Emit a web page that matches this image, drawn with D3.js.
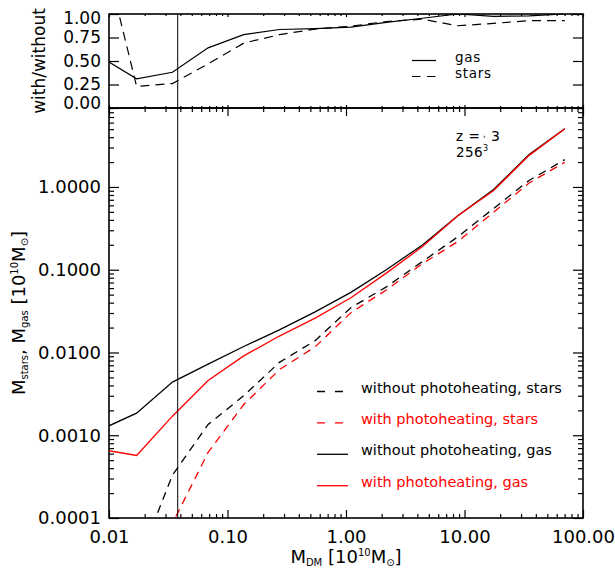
<!DOCTYPE html>
<html><head><meta charset="utf-8">
<script src="https://cdn.jsdelivr.net/npm/d3@7"></script>
<style>body{margin:0;background:#fff}svg{display:block}text{font-family:"DejaVu Sans",sans-serif}</style>
</head><body><svg id="c" width="615" height="575"></svg>
<script>
// ---- data ----
const massDM      = [0.01, 0.0171, 0.0343, 0.0686, 0.137, 0.274, 0.549, 1.10, 2.19, 4.39, 8.78, 17.6, 35.1, 70.2];
const gasWithout  = [0.0013, 0.00185, 0.00439, 0.00724, 0.0118, 0.0188, 0.031, 0.0532, 0.100, 0.198, 0.45, 0.93, 2.46, 5.06];
const gasWith     = [0.00065, 0.00057, 0.0017, 0.00458, 0.0091, 0.0158, 0.026, 0.0458, 0.091, 0.189, 0.45, 0.907, 2.41, 5.06];
const starsWithout= [3e-6, 2.6e-5, 3.3e-4, 1.35e-3, 0.0030, 0.0076, 0.0139, 0.0348, 0.062, 0.125, 0.25, 0.55, 1.2, 2.14];
const starsWith   = [4.3e-6, 6e-6, 8.6e-5, 6.2e-4, 0.00235, 0.0062, 0.0117, 0.0303, 0.057, 0.1175, 0.219, 0.495, 1.116, 1.99];
const ratioGas    = [0.49, 0.31, 0.38, 0.64, 0.78, 0.835, 0.845, 0.86, 0.91, 0.955, 1.0, 0.975, 0.98, 1.0];
const ratioStars  = [1.43, 0.23, 0.26, 0.47, 0.69, 0.78, 0.84, 0.87, 0.92, 0.945, 0.875, 0.90, 0.93, 0.93];
const cutMass = 0.038;
const xTicks = [0.01, 0.1, 1, 10, 100];
const yTicksBottom = [0.0001, 0.001, 0.01, 0.1, 1];
const yTicksTop = [0, 0.25, 0.5, 0.75, 1];
const legendBottom = [
  {label:"without photoheating, stars", color:"#000", dash:"8,10"},
  {label:"with photoheating, stars", color:"#f00", dash:"8,10"},
  {label:"without photoheating, gas", color:"#000", dash:null},
  {label:"with photoheating, gas", color:"#f00", dash:null}
];
const legendTop = [{label:"gas", dash:null},{label:"stars", dash:"8.5,6.5"}];

// ---- layout ----
const L=109, R=583, T1=14, B1=108, B2=518;
const svg = d3.select("#c");
const x = d3.scaleLog().domain([0.01,100]).range([L,R]);
const yB = d3.scaleLog().domain([1e-4,9]).range([B2,B1]);
const yT = d3.scaleLinear().domain([0,1]).range([B1,T1]);

const minorLog = (lo,hi)=>{const a=[];for(let e=lo;e<hi;e++)for(let k=2;k<=9;k++)a.push(k*Math.pow(10,e));return a;};
const xMinor = minorLog(-2,2);
const yMinor = minorLog(-4,1).filter(v=>v<=9);

svg.append("defs").html(
 `<clipPath id="cb"><rect x="${L}" y="${B1}" width="${R-L}" height="${B2-B1}"/></clipPath>
  <clipPath id="ct"><rect x="${L}" y="${T1}" width="${R-L}" height="${B1-T1}"/></clipPath>`);

function styleAxis(g){g.select(".domain").remove();g.selectAll("line").attr("stroke","#000").attr("stroke-width",1.2);
  g.selectAll("text").attr("fill","#000").style("font-family","DejaVu Sans").style("font-size","18px");}

// bottom panel axes
svg.append("g").attr("transform",`translate(0,${B2})`).call(d3.axisBottom(x).tickValues(xTicks).tickFormat(d3.format(".2f")).tickSizeInner(-8).tickSizeOuter(0).tickPadding(12)).call(styleAxis);
svg.append("g").attr("transform",`translate(0,${B2})`).call(d3.axisBottom(x).tickValues(xMinor).tickFormat("").tickSizeInner(-4).tickSizeOuter(0)).call(styleAxis);
svg.append("g").attr("transform",`translate(0,${B1})`).call(d3.axisTop(x).tickValues(xTicks).tickFormat("").tickSizeInner(-8).tickSizeOuter(0)).call(styleAxis);
svg.append("g").attr("transform",`translate(0,${B1})`).call(d3.axisTop(x).tickValues(xMinor).tickFormat("").tickSizeInner(-4).tickSizeOuter(0)).call(styleAxis);
svg.append("g").attr("transform",`translate(${L},0)`).call(d3.axisLeft(yB).tickValues(yTicksBottom).tickFormat(d3.format(".4f")).tickSizeInner(-10).tickSizeOuter(0).tickPadding(8)).call(styleAxis);
svg.append("g").attr("transform",`translate(${L},0)`).call(d3.axisLeft(yB).tickValues(yMinor).tickFormat("").tickSizeInner(-5).tickSizeOuter(0)).call(styleAxis);
svg.append("g").attr("transform",`translate(${R},0)`).call(d3.axisRight(yB).tickValues(yTicksBottom).tickFormat("").tickSizeInner(-10).tickSizeOuter(0)).call(styleAxis);
svg.append("g").attr("transform",`translate(${R},0)`).call(d3.axisRight(yB).tickValues(yMinor).tickFormat("").tickSizeInner(-5).tickSizeOuter(0)).call(styleAxis);

// top panel axes
svg.append("g").attr("transform",`translate(0,${B1})`).call(d3.axisBottom(x).tickValues(xTicks).tickFormat("").tickSizeInner(-3).tickSizeOuter(0)).call(styleAxis);
svg.append("g").attr("transform",`translate(0,${B1})`).call(d3.axisBottom(x).tickValues(xMinor).tickFormat("").tickSizeInner(-2).tickSizeOuter(0)).call(styleAxis);
svg.append("g").attr("transform",`translate(0,${T1})`).call(d3.axisTop(x).tickValues(xTicks).tickFormat("").tickSizeInner(-3).tickSizeOuter(0)).call(styleAxis);
svg.append("g").attr("transform",`translate(0,${T1})`).call(d3.axisTop(x).tickValues(xMinor).tickFormat("").tickSizeInner(-2).tickSizeOuter(0)).call(styleAxis);
const gTopY = svg.append("g").attr("transform",`translate(${L},0)`).call(d3.axisLeft(yT).tickValues(yTicksTop).tickFormat(d3.format(".2f")).tickSizeInner(-10).tickSizeOuter(0).tickPadding(8)).call(styleAxis);
gTopY.selectAll("text").style("font-size","17px");
gTopY.selectAll(".tick").filter(d=>d===1).select("text").attr("dy","0.55em");
gTopY.selectAll(".tick").filter(d=>d===0).select("text").attr("dy","0em");
svg.append("g").attr("transform",`translate(${R},0)`).call(d3.axisRight(yT).tickValues(yTicksTop).tickFormat("").tickSizeInner(-10).tickSizeOuter(0)).call(styleAxis);

// frames
svg.append("rect").attr("x",L).attr("y",T1).attr("width",R-L).attr("height",B1-T1).attr("fill","none").attr("stroke","#000").attr("stroke-width",1.6);
svg.append("rect").attr("x",L).attr("y",B1).attr("width",R-L).attr("height",B2-B1).attr("fill","none").attr("stroke","#000").attr("stroke-width",1.6);

// data lines
const lineB = d3.line().x(d=>x(d[0])).y(d=>yB(d[1]));
const lineT = d3.line().x(d=>x(d[0])).y(d=>yT(d[1]));
const zip = arr => massDM.map((m,i)=>[m,arr[i]]);
const gB = svg.append("g").attr("clip-path","url(#cb)");
[[starsWithout,"#000","8,6"],[starsWith,"#f00","8,6"],[gasWithout,"#000",null],[gasWith,"#f00",null]].forEach(([arr,c,d])=>{
  gB.append("path").attr("d",lineB(zip(arr))).attr("fill","none").attr("stroke",c).attr("stroke-width",1.3).attr("stroke-dasharray",d);
});
const gT = svg.append("g").attr("clip-path","url(#ct)");
gT.append("path").attr("d",lineT(zip(ratioGas))).attr("fill","none").attr("stroke","#000").attr("stroke-width",1.2);
gT.append("path").attr("d",lineT(zip(ratioStars))).attr("fill","none").attr("stroke","#000").attr("stroke-width",1.2).attr("stroke-dasharray","9,6");

// vertical cut line
svg.append("line").attr("x1",x(cutMass)).attr("x2",x(cutMass)).attr("y1",T1).attr("y2",B2).attr("stroke","#000").attr("stroke-width",1);

// bottom legend
legendBottom.forEach((e,i)=>{
  const yy = 391.5 + i*31.4;
  svg.append("line").attr("x1",317).attr("x2",348).attr("y1",yy).attr("y2",yy).attr("stroke",e.color).attr("stroke-width",1.3).attr("stroke-dasharray",e.dash);
  svg.append("text").attr("x",361).attr("y",yy+1).attr("fill",e.color).style("font-size","14.5px").text(e.label);
});
// top legend
legendTop.forEach((e,i)=>{
  const yy = 60.5 + i*16;
  svg.append("line").attr("x1",412).attr("x2",436).attr("y1",yy).attr("y2",yy).attr("stroke","#000").attr("stroke-width",1.2).attr("stroke-dasharray",e.dash);
  svg.append("text").attr("x",455).attr("y",yy+1).style("font-size","13.5px").style("letter-spacing","0.7px").text(e.label);
});

// annotation
svg.append("text").attr("x",456).attr("y",141).style("font-size","13.5px").style("letter-spacing","0.5px").text("z =");
svg.append("text").attr("x",483).attr("y",137).style("font-size","8px").text(",");
svg.append("text").attr("x",491).attr("y",141).style("font-size","14px").text("3");
const t2 = svg.append("text").attr("x",456).attr("y",157).style("font-size","13.5px").style("letter-spacing","0.4px");
t2.append("tspan").text("256");
t2.append("tspan").attr("dy",-6).style("font-size","8px").text("3");

// axis titles
const xt = svg.append("text").attr("x",346).attr("y",563).attr("text-anchor","middle").style("font-size","18px");
xt.append("tspan").text("M");
xt.append("tspan").attr("dy",3).style("font-size","10px").text("DM");
xt.append("tspan").attr("dy",-3).text(" [10");
xt.append("tspan").attr("dy",-7).style("font-size","10px").text("10");
xt.append("tspan").attr("dy",7).text("M");
xt.append("tspan").attr("dy",3).style("font-size","10px").text("⊙");
xt.append("tspan").attr("dy",-3).text("]");

const yt = svg.append("text").attr("transform","translate(25,313) rotate(-90)").attr("text-anchor","middle").style("font-size","18px");
yt.append("tspan").text("M");
yt.append("tspan").attr("dy",3).style("font-size","10px").text("stars");
yt.append("tspan").attr("dy",-3).text(", M");
yt.append("tspan").attr("dy",3).style("font-size","10px").text("gas");
yt.append("tspan").attr("dy",-3).text(" [10");
yt.append("tspan").attr("dy",-7).style("font-size","10px").text("10");
yt.append("tspan").attr("dy",7).text("M");
yt.append("tspan").attr("dy",3).style("font-size","10px").text("⊙");
yt.append("tspan").attr("dy",-3).text("]");

svg.append("text").attr("transform","translate(45,61) rotate(-90)").attr("text-anchor","middle").style("font-size","17px").text("with/without");
</script></body></html>
